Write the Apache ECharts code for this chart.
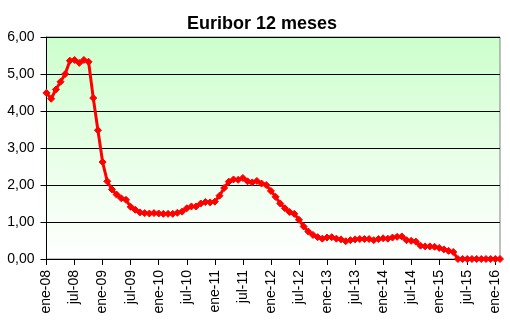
<!DOCTYPE html>
<html>
<head>
<meta charset="utf-8">
<script src="https://cdn.jsdelivr.net/npm/echarts@6/dist/echarts.min.js"></script>
<style>html,body{margin:0;padding:0;background:#fff}#c{width:510px;height:324px}</style>
</head>
<body>
<div id="c"></div>
<script>
const monthNames = ['ene','feb','mar','abr','may','jun','jul','ago','sep','oct','nov','dic'];
const years = ['08','09','10','11','12','13','14','15','16'];
const values2008 = [4.49, 4.33, 4.58, 4.79, 5.00, 5.36, 5.38, 5.30, 5.38, 5.33, 4.35, 3.48];
const values2009 = [2.62, 2.10, 1.88, 1.74, 1.64, 1.60, 1.41, 1.33, 1.26, 1.24, 1.23, 1.24];
const values2010 = [1.23, 1.22, 1.22, 1.22, 1.25, 1.28, 1.37, 1.42, 1.42, 1.50, 1.54, 1.53];
const values2011 = [1.55, 1.71, 1.92, 2.09, 2.15, 2.14, 2.19, 2.10, 2.07, 2.11, 2.04, 2.00];
const values2012 = [1.84, 1.68, 1.50, 1.37, 1.27, 1.22, 1.06, 0.88, 0.74, 0.65, 0.59, 0.55];
const values2013 = [0.58, 0.59, 0.55, 0.53, 0.48, 0.51, 0.53, 0.54, 0.54, 0.54, 0.51, 0.54];
const values2014 = [0.56, 0.55, 0.58, 0.60, 0.61, 0.51, 0.49, 0.47, 0.36, 0.34, 0.34, 0.33];
const values2015 = [0.30, 0.26, 0.22, 0.19, 0.00, 0.00, 0.00, 0.00, 0.00, 0.00, 0.00, 0.00];
const values2016 = [0.00, 0.00];

const seriesValues = [].concat(values2008, values2009, values2010, values2011, values2012,
  values2013, values2014, values2015, values2016);
const categories = [];
for (let i = 0; i < seriesValues.length; i++) {
  categories.push(monthNames[i % 12] + '-' + years[Math.floor(i / 12)]);
}

const chart = echarts.init(document.getElementById('c'), null, {renderer: 'canvas'});
const font = 'Arial, "Liberation Sans", sans-serif';
chart.setOption({
  animation: false,
  backgroundColor: '#ffffff',
  title: {
    text: 'Euribor 12 meses',
    left: 257, top: 10, textAlign: 'center',
    textStyle: {fontFamily: font, fontSize: 18, fontWeight: 'bold', color: '#000'}
  },
  grid: {
    left: 46.5, right: 10, top: 37, bottom: 65,
    show: true,
    borderColor: '#808080', borderWidth: 1,
    backgroundColor: {
      type: 'linear', x: 0, y: 0, x2: 0, y2: 1,
      colorStops: [{offset: 0, color: '#ccffcc'}, {offset: 1, color: '#ffffff'}]
    }
  },
  xAxis: {
    type: 'category',
    data: categories,
    boundaryGap: false,
    axisLine: {lineStyle: {color: '#000', width: 1}},
    axisTick: {show: true, inside: false, length: 6, interval: 5, lineStyle: {color: '#000'}},
    axisLabel: {
      interval: 5, rotate: 90, margin: 11,
      fontFamily: font, fontSize: 14, color: '#000'
    },
    splitLine: {show: false}
  },
  yAxis: {
    type: 'value', min: 0, max: 6, interval: 1,
    axisLine: {show: true, lineStyle: {color: '#000', width: 1}},
    axisTick: {show: true, inside: false, length: 6, lineStyle: {color: '#000'}},
    axisLabel: {
      margin: 12, fontFamily: font, fontSize: 14, color: '#000',
      formatter: v => v.toFixed(2).replace('.', ',')
    },
    splitLine: {show: true, lineStyle: {color: '#000', width: 1}}
  },
  series: [{
    type: 'line',
    data: seriesValues,
    symbol: 'diamond',
    symbolSize: 7,
    showAllSymbol: true,
    lineStyle: {color: '#ff0000', width: 3},
    itemStyle: {color: '#ff0000', borderColor: '#ff0000'}
  }]
});
</script>
</body>
</html>
